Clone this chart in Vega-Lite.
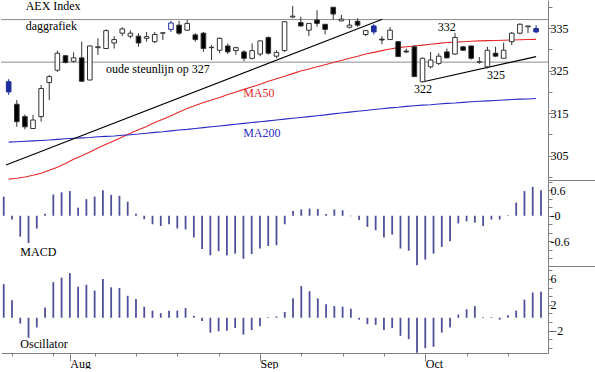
{
  "$schema": "https://vega.github.io/schema/vega-lite/v6.json",
  "padding": 0,
  "spacing": 0,
  "bounds": "flush",
  "background": "white",
  "config": {
    "view": {"stroke": null},
    "font": "Liberation Serif",
    "text": {"font": "Liberation Serif", "fontSize": 12},
    "axis": {"labelFont": "Liberation Serif", "labelFontSize": 12, "labelColor": "#000000", "domainColor": "#808080", "tickColor": "#808080", "grid": false, "labelOverlap": false, "labelFlush": false}
  },
  "datasets": {
    "days": [
      {"date":"2012-07-20","i":0,"open":322.4,"high":323.0,"low":319.3,"close":320.0,"ma50":299.5,"ma200":308.2,"macd":0.45,"osc":5.2,"signal":true},
      {"date":"2012-07-23","i":1,"open":317.1,"high":318.1,"low":311.8,"close":313.0,"ma50":299.7,"ma200":308.3,"macd":-0.09,"osc":2.7,"signal":false},
      {"date":"2012-07-24","i":2,"open":314.2,"high":314.7,"low":311.2,"close":311.8,"ma50":300.0,"ma200":308.4,"macd":-0.49,"osc":-0.9,"signal":false},
      {"date":"2012-07-25","i":3,"open":311.4,"high":314.6,"low":311.4,"close":313.4,"ma50":300.4,"ma200":308.5,"macd":-0.64,"osc":-3.1,"signal":false},
      {"date":"2012-07-26","i":4,"open":314.2,"high":321.6,"low":313.0,"close":320.8,"ma50":300.9,"ma200":308.6,"macd":-0.30,"osc":-1.5,"signal":false},
      {"date":"2012-07-27","i":5,"open":322.2,"high":324.0,"low":318.1,"close":323.6,"ma50":301.6,"ma200":308.7,"macd":0.05,"osc":1.6,"signal":false},
      {"date":"2012-07-30","i":6,"open":325.1,"high":329.7,"low":324.7,"close":329.1,"ma50":302.3,"ma200":308.85,"macd":0.50,"osc":5.5,"signal":false},
      {"date":"2012-07-31","i":7,"open":328.5,"high":328.7,"low":326.7,"close":326.9,"ma50":303.2,"ma200":309.0,"macd":0.55,"osc":6.2,"signal":false},
      {"date":"2012-08-01","i":8,"open":327.2,"high":329.3,"low":326.9,"close":328.0,"ma50":304.2,"ma200":309.1,"macd":0.58,"osc":6.9,"signal":false},
      {"date":"2012-08-02","i":9,"open":328.0,"high":331.8,"low":322.4,"close":322.5,"ma50":305.0,"ma200":309.2,"macd":0.19,"osc":4.8,"signal":false},
      {"date":"2012-08-03","i":10,"open":322.8,"high":330.9,"low":322.7,"close":330.8,"ma50":305.9,"ma200":309.3,"macd":0.39,"osc":5.1,"signal":false},
      {"date":"2012-08-06","i":11,"open":330.4,"high":332.6,"low":328.7,"close":330.6,"ma50":306.8,"ma200":309.45,"macd":0.45,"osc":4.2,"signal":false},
      {"date":"2012-08-07","i":12,"open":330.2,"high":334.7,"low":330.2,"close":334.4,"ma50":307.7,"ma200":309.55,"macd":0.60,"osc":6.0,"signal":false},
      {"date":"2012-08-08","i":13,"open":331.5,"high":333.1,"low":330.2,"close":332.3,"ma50":308.5,"ma200":309.65,"macd":0.49,"osc":4.7,"signal":false},
      {"date":"2012-08-09","i":14,"open":333.8,"high":335.2,"low":333.1,"close":334.8,"ma50":309.4,"ma200":309.8,"macd":0.47,"osc":4.6,"signal":false},
      {"date":"2012-08-10","i":15,"open":333.1,"high":334.5,"low":332.6,"close":333.8,"ma50":310.3,"ma200":309.95,"macd":0.33,"osc":3.4,"signal":false},
      {"date":"2012-08-13","i":16,"open":333.1,"high":333.8,"low":330.6,"close":331.5,"ma50":311.1,"ma200":310.1,"macd":0.05,"osc":2.9,"signal":false},
      {"date":"2012-08-14","i":17,"open":332.6,"high":334.1,"low":331.8,"close":333.0,"ma50":311.9,"ma200":310.3,"macd":-0.08,"osc":1.7,"signal":false},
      {"date":"2012-08-15","i":18,"open":331.8,"high":334.1,"low":331.5,"close":333.5,"ma50":312.8,"ma200":310.5,"macd":-0.20,"osc":1.1,"signal":false},
      {"date":"2012-08-16","i":19,"open":333.8,"high":333.9,"low":332.2,"close":333.9,"ma50":313.6,"ma200":310.65,"macd":-0.24,"osc":0.7,"signal":false},
      {"date":"2012-08-17","i":20,"open":334.7,"high":336.7,"low":334.1,"close":336.2,"ma50":314.4,"ma200":310.85,"macd":-0.20,"osc":1.1,"signal":true},
      {"date":"2012-08-20","i":21,"open":335.7,"high":336.7,"low":333.4,"close":333.8,"ma50":315.3,"ma200":311.05,"macd":-0.30,"osc":1.1,"signal":false},
      {"date":"2012-08-21","i":22,"open":334.5,"high":336.9,"low":334.4,"close":336.1,"ma50":316.1,"ma200":311.2,"macd":-0.32,"osc":1.5,"signal":false},
      {"date":"2012-08-22","i":23,"open":333.4,"high":333.8,"low":331.8,"close":332.3,"ma50":316.8,"ma200":311.4,"macd":-0.51,"osc":0.3,"signal":false},
      {"date":"2012-08-23","i":24,"open":333.8,"high":334.1,"low":329.4,"close":330.2,"ma50":317.5,"ma200":311.6,"macd":-0.78,"osc":-0.5,"signal":false},
      {"date":"2012-08-24","i":25,"open":330.4,"high":331.0,"low":327.5,"close":330.5,"ma50":318.1,"ma200":311.8,"macd":-0.93,"osc":-2.3,"signal":false},
      {"date":"2012-08-27","i":26,"open":329.8,"high":332.8,"low":329.1,"close":332.6,"ma50":318.7,"ma200":312.0,"macd":-0.83,"osc":-2.1,"signal":false},
      {"date":"2012-08-28","i":27,"open":330.8,"high":331.4,"low":328.9,"close":329.4,"ma50":319.4,"ma200":312.2,"macd":-0.93,"osc":-2.0,"signal":false},
      {"date":"2012-08-29","i":28,"open":329.7,"high":330.6,"low":328.7,"close":330.4,"ma50":320.0,"ma200":312.4,"macd":-0.89,"osc":-1.6,"signal":false},
      {"date":"2012-08-30","i":29,"open":329.4,"high":329.8,"low":327.2,"close":327.9,"ma50":320.6,"ma200":312.6,"macd":-1.01,"osc":-2.6,"signal":false},
      {"date":"2012-08-31","i":30,"open":327.9,"high":331.4,"low":327.6,"close":329.7,"ma50":321.2,"ma200":312.8,"macd":-0.90,"osc":-1.9,"signal":false},
      {"date":"2012-09-03","i":31,"open":328.9,"high":332.0,"low":328.4,"close":332.0,"ma50":321.8,"ma200":313.0,"macd":-0.77,"osc":-1.3,"signal":false},
      {"date":"2012-09-04","i":32,"open":332.8,"high":333.0,"low":328.8,"close":329.1,"ma50":322.5,"ma200":313.2,"macd":-0.71,"osc":0.1,"signal":false},
      {"date":"2012-09-05","i":33,"open":328.4,"high":329.8,"low":327.9,"close":329.3,"ma50":323.1,"ma200":313.4,"macd":-0.69,"osc":0.2,"signal":false},
      {"date":"2012-09-06","i":34,"open":329.7,"high":336.5,"low":329.4,"close":336.5,"ma50":323.7,"ma200":313.6,"macd":-0.20,"osc":0.9,"signal":false},
      {"date":"2012-09-07","i":35,"open":337.6,"high":340.2,"low":337.3,"close":337.8,"ma50":324.3,"ma200":313.8,"macd":0.11,"osc":3.0,"signal":false},
      {"date":"2012-09-10","i":36,"open":336.3,"high":337.7,"low":335.3,"close":335.5,"ma50":324.9,"ma200":314.0,"macd":0.15,"osc":4.9,"signal":false},
      {"date":"2012-09-11","i":37,"open":334.5,"high":336.1,"low":333.1,"close":336.1,"ma50":325.4,"ma200":314.2,"macd":0.17,"osc":4.1,"signal":false},
      {"date":"2012-09-12","i":38,"open":336.9,"high":339.2,"low":335.3,"close":336.1,"ma50":325.9,"ma200":314.4,"macd":0.16,"osc":3.0,"signal":false},
      {"date":"2012-09-13","i":39,"open":335.9,"high":335.9,"low":333.5,"close":334.7,"ma50":326.4,"ma200":314.6,"macd":0.04,"osc":2.1,"signal":false},
      {"date":"2012-09-14","i":40,"open":339.9,"high":339.9,"low":337.0,"close":338.3,"ma50":326.9,"ma200":314.85,"macd":0.15,"osc":1.8,"signal":false},
      {"date":"2012-09-17","i":41,"open":336.7,"high":338.1,"low":336.6,"close":337.1,"ma50":327.4,"ma200":315.05,"macd":0.13,"osc":1.7,"signal":false},
      {"date":"2012-09-18","i":42,"open":335.2,"high":337.0,"low":334.9,"close":335.7,"ma50":327.9,"ma200":315.25,"macd":-0.01,"osc":1.4,"signal":false},
      {"date":"2012-09-19","i":43,"open":336.6,"high":337.3,"low":335.3,"close":335.7,"ma50":328.4,"ma200":315.45,"macd":-0.10,"osc":-0.3,"signal":false},
      {"date":"2012-09-20","i":44,"open":333.5,"high":334.6,"low":333.1,"close":334.4,"ma50":328.9,"ma200":315.65,"macd":-0.26,"osc":-1.0,"signal":false},
      {"date":"2012-09-21","i":45,"open":335.5,"high":335.9,"low":333.5,"close":334.1,"ma50":329.3,"ma200":315.85,"macd":-0.34,"osc":-1.1,"signal":true},
      {"date":"2012-09-24","i":46,"open":332.4,"high":333.1,"low":331.2,"close":332.2,"ma50":329.7,"ma200":316.05,"macd":-0.51,"osc":-1.9,"signal":false},
      {"date":"2012-09-25","i":47,"open":332.3,"high":335.2,"low":332.2,"close":334.5,"ma50":330.1,"ma200":316.25,"macd":-0.44,"osc":-1.6,"signal":false},
      {"date":"2012-09-26","i":48,"open":331.8,"high":332.0,"low":328.3,"close":328.3,"ma50":330.4,"ma200":316.4,"macd":-0.77,"osc":-2.8,"signal":false},
      {"date":"2012-09-27","i":49,"open":329.6,"high":330.2,"low":329.1,"close":329.4,"ma50":330.6,"ma200":316.6,"macd":-0.82,"osc":-3.3,"signal":false},
      {"date":"2012-09-28","i":50,"open":330.6,"high":331.0,"low":323.6,"close":323.6,"ma50":330.8,"ma200":316.75,"macd":-1.16,"osc":-5.4,"signal":false},
      {"date":"2012-10-01","i":51,"open":322.4,"high":328.1,"low":322.2,"close":327.9,"ma50":331.0,"ma200":316.9,"macd":-1.03,"osc":-4.7,"signal":false},
      {"date":"2012-10-02","i":52,"open":325.9,"high":329.4,"low":325.5,"close":327.5,"ma50":331.2,"ma200":317.0,"macd":-0.89,"osc":-4.5,"signal":false},
      {"date":"2012-10-03","i":53,"open":326.7,"high":329.1,"low":326.3,"close":328.4,"ma50":331.4,"ma200":317.15,"macd":-0.73,"osc":-2.3,"signal":false},
      {"date":"2012-10-04","i":54,"open":329.4,"high":330.2,"low":327.9,"close":328.0,"ma50":331.6,"ma200":317.3,"macd":-0.60,"osc":-1.5,"signal":false},
      {"date":"2012-10-05","i":55,"open":328.9,"high":333.9,"low":328.7,"close":332.8,"ma50":331.7,"ma200":317.4,"macd":-0.18,"osc":0.5,"signal":false},
      {"date":"2012-10-08","i":56,"open":330.6,"high":330.8,"low":329.6,"close":329.8,"ma50":331.8,"ma200":317.55,"macd":-0.13,"osc":1.3,"signal":false},
      {"date":"2012-10-09","i":57,"open":330.8,"high":330.8,"low":327.6,"close":327.9,"ma50":331.9,"ma200":317.7,"macd":-0.16,"osc":1.8,"signal":false},
      {"date":"2012-10-10","i":58,"open":327.0,"high":328.2,"low":326.6,"close":327.1,"ma50":332.0,"ma200":317.8,"macd":-0.24,"osc":0.1,"signal":false},
      {"date":"2012-10-11","i":59,"open":325.9,"high":330.6,"low":325.5,"close":329.8,"ma50":332.05,"ma200":317.9,"macd":-0.09,"osc":0.1,"signal":false},
      {"date":"2012-10-12","i":60,"open":329.1,"high":330.6,"low":328.2,"close":328.4,"ma50":332.1,"ma200":318.0,"macd":-0.09,"osc":-0.3,"signal":false},
      {"date":"2012-10-15","i":61,"open":327.9,"high":331.6,"low":327.9,"close":329.8,"ma50":332.15,"ma200":318.1,"macd":0.01,"osc":0.4,"signal":false},
      {"date":"2012-10-16","i":62,"open":331.8,"high":334.1,"low":331.0,"close":333.8,"ma50":332.2,"ma200":318.2,"macd":0.31,"osc":1.1,"signal":false},
      {"date":"2012-10-17","i":63,"open":333.8,"high":336.1,"low":333.5,"close":335.9,"ma50":332.25,"ma200":318.3,"macd":0.58,"osc":2.8,"signal":false},
      {"date":"2012-10-18","i":64,"open":335.3,"high":335.5,"low":333.8,"close":335.5,"ma50":332.3,"ma200":318.35,"macd":0.68,"osc":3.9,"signal":false},
      {"date":"2012-10-19","i":65,"open":334.9,"high":335.7,"low":333.8,"close":334.1,"ma50":332.35,"ma200":318.45,"macd":0.60,"osc":4.0,"signal":true}
    ],
    "trend": [
      {"line":"steun","i":-0.33,"price":302.8},
      {"line":"steun","i":46.05,"price":337.1},
      {"line":"nieuw","i":51.1,"price":322.4},
      {"line":"nieuw","i":65,"price":328.3}
    ],
    "levels": [{"level":337},{"level":327}],
    "notes": [
      {"i":2.09,"y":339.2,"text":"AEX Index"},
      {"i":2.09,"y":334.5,"text":"daggrafiek"},
      {"i":12.0,"y":324.35,"text":"oude steunlijn op 327"},
      {"i":28.9,"y":318.85,"text":"MA50"},
      {"i":28.9,"y":309.45,"text":"MA200"}
    ],
    "peaks": [
      {"i":54.0,"y":334.35,"text":"332"},
      {"i":51.05,"y":319.65,"text":"322"},
      {"i":60.07,"y":322.95,"text":"325"}
    ],
    "macdNote": [{"i":2.01,"y":-0.95,"text":"MACD"}],
    "oscNote": [{"i":2.01,"y":-4.72,"text":"Oscillator"}]
  },
  "vconcat": [
    {
      "width": 547,
      "height": 180,
      "resolve": {"axis": {"y": "independent"}},
      "layer": [
        {
          "data": {"name": "levels"},
          "mark": {"type": "rule", "color": "#8c8c8c", "strokeWidth": 1},
          "encoding": {
            "y": {"field": "level", "type": "quantitative", "title": null,
              "scale": {"domain": [299.3, 341.6], "nice": false, "zero": false},
              "axis": {"orient": "right", "values": [305, 315, 325, 335], "format": "d",
                "tickSize": 4, "labelPadding": -2, "labelBaseline": "middle", "labelOverlap": false}}
          }
        },
        {
          "data": {"name": "days"},
          "mark": {"type": "line", "color": "#e42a2a", "strokeWidth": 1.1},
          "encoding": {
            "x": {"field": "i", "type": "quantitative", "title": null, "scale": {"domain": [-0.33, 65.85], "nice": false, "zero": false}, "axis": null},
            "y": {"field": "ma50", "type": "quantitative", "title": null, "scale": {"domain": [299.3, 341.6], "nice": false, "zero": false},
              "axis": {"orient": "right", "values": [299.3, 300, 310, 320, 330, 340], "labels": false, "domain": false,
                "tickSize": {"condition": {"test": "datum.value < 299.9", "value": 48}, "value": 4}}}
          }
        },
        {
          "data": {"name": "days"},
          "mark": {"type": "line", "color": "#2a2ac4", "strokeWidth": 1.1},
          "encoding": {
            "x": {"field": "i", "type": "quantitative", "title": null, "scale": {"domain": [-0.33, 65.85], "nice": false, "zero": false}, "axis": null},
            "y": {"field": "ma200", "type": "quantitative", "title": null, "scale": {"domain": [299.3, 341.6], "nice": false, "zero": false}, "axis": null}
          }
        },
        {
          "data": {"name": "trend"},
          "mark": {"type": "line", "color": "#000000", "strokeWidth": 1.1},
          "encoding": {
            "x": {"field": "i", "type": "quantitative", "title": null, "scale": {"domain": [-0.33, 65.85], "nice": false, "zero": false}, "axis": null},
            "y": {"field": "price", "type": "quantitative", "title": null, "scale": {"domain": [299.3, 341.6], "nice": false, "zero": false}, "axis": null},
            "detail": {"field": "line", "type": "nominal"}
          }
        },
        {
          "data": {"name": "days"},
          "mark": {"type": "rule", "strokeWidth": 1},
          "encoding": {
            "x": {"field": "i", "type": "quantitative", "title": null, "scale": {"domain": [-0.33, 65.85], "nice": false, "zero": false}, "axis": null},
            "y": {"field": "low", "type": "quantitative", "title": null, "scale": {"domain": [299.3, 341.6], "nice": false, "zero": false}, "axis": null},
            "y2": {"field": "high"},
            "color": {"condition": {"test": "datum.signal", "value": "#1f2d9e"}, "value": "#333333"}
          }
        },
        {
          "data": {"name": "days"},
          "mark": {"type": "bar", "size": 4.6, "strokeWidth": 1},
          "encoding": {
            "x": {"field": "i", "type": "quantitative", "title": null, "scale": {"domain": [-0.33, 65.85], "nice": false, "zero": false}, "axis": null},
            "y": {"field": "open", "type": "quantitative", "title": null, "scale": {"domain": [299.3, 341.6], "nice": false, "zero": false}, "axis": null},
            "y2": {"field": "close"},
            "fill": {"condition": [
              {"test": "datum.signal && datum.close < datum.open", "value": "#1f2d9e"},
              {"test": "datum.close < datum.open", "value": "#000000"}], "value": "#ffffff"},
            "stroke": {"condition": {"test": "datum.signal", "value": "#1f2d9e"}, "value": "#333333"}
          }
        },
        {
          "data": {"name": "notes"},
          "mark": {"type": "text", "align": "left", "baseline": "alphabetic", "fontSize": 12, "font": "Liberation Serif"},
          "encoding": {
            "x": {"field": "i", "type": "quantitative", "title": null, "scale": {"domain": [-0.33, 65.85], "nice": false, "zero": false}, "axis": null},
            "y": {"field": "y", "type": "quantitative", "title": null, "scale": {"domain": [299.3, 341.6], "nice": false, "zero": false}, "axis": null},
            "text": {"field": "text"},
            "color": {"condition": [
              {"test": "datum.text == 'MA50'", "value": "#e42a2a"},
              {"test": "datum.text == 'MA200'", "value": "#2a2ac4"}], "value": "#000000"}
          }
        },
        {
          "data": {"name": "peaks"},
          "mark": {"type": "text", "align": "center", "baseline": "alphabetic", "fontSize": 12, "font": "Liberation Serif", "color": "#000000"},
          "encoding": {
            "x": {"field": "i", "type": "quantitative", "title": null, "scale": {"domain": [-0.33, 65.85], "nice": false, "zero": false}, "axis": null},
            "y": {"field": "y", "type": "quantitative", "title": null, "scale": {"domain": [299.3, 341.6], "nice": false, "zero": false}, "axis": null},
            "text": {"field": "text"}
          }
        }
      ]
    },
    {
      "width": 547,
      "height": 86,
      "resolve": {"axis": {"y": "independent"}},
      "layer": [
        {
          "data": {"name": "days"},
          "mark": {"type": "rule", "color": "#50509a", "strokeWidth": 1.8},
          "encoding": {
            "x": {"field": "i", "type": "quantitative", "title": null, "scale": {"domain": [-0.33, 65.85], "nice": false, "zero": false}, "axis": null},
            "y": {"field": "macd", "type": "quantitative", "title": null,
              "scale": {"domain": [-1.18, 0.84], "nice": false, "zero": false},
              "axis": {"orient": "right", "values": [-0.6, 0, 0.6],
                "labelExpr": "datum.value > 0.3 ? '0.6' : datum.value < -0.3 ? '-0.6' : '-0'",
                "tickSize": 4, "labelPadding": -2, "labelBaseline": "middle", "labelOverlap": false}},
            "y2": {"datum": 0}
          }
        },
        {
          "data": {"name": "macdNote"},
          "mark": {"type": "text", "align": "left", "baseline": "alphabetic", "fontSize": 12, "font": "Liberation Serif", "color": "#000000"},
          "encoding": {
            "x": {"field": "i", "type": "quantitative", "title": null, "scale": {"domain": [-0.33, 65.85], "nice": false, "zero": false}, "axis": null},
            "y": {"field": "y", "type": "quantitative", "title": null, "scale": {"domain": [-1.18, 0.84], "nice": false, "zero": false},
              "axis": {"orient": "right", "values": [-1.18, -1.0, -0.8, -0.4, -0.2, 0.2, 0.4, 0.8], "labels": false, "domain": false,
                "tickSize": {"condition": {"test": "datum.value < -1.1", "value": 48}, "value": 4}}},
            "text": {"field": "text"}
          }
        }
      ]
    },
    {
      "width": 547,
      "height": 87,
      "resolve": {"axis": {"y": "independent"}},
      "layer": [
        {
          "data": {"name": "days"},
          "mark": {"type": "rule", "color": "#50509a", "strokeWidth": 1.8},
          "encoding": {
            "x": {"field": "i", "type": "quantitative", "title": null,
              "scale": {"domain": [-0.33, 65.85], "nice": false, "zero": false},
              "axis": {"values": [1, 6, 8, 11, 16, 21, 26, 31, 36, 41, 46, 51, 56, 61],
                "labelExpr": "datum.value == 8 ? 'Aug' : datum.value == 31 ? 'Sep' : datum.value == 51 ? 'Oct' : ''",
                "tickSize": {"condition": {"test": "datum.value == 8 || datum.value == 31 || datum.value == 51", "value": 8}, "value": 3},
                "labelAlign": "left", "labelPadding": -3, "labelBaseline": "top", "labelOverlap": false}},
            "y": {"field": "osc", "type": "quantitative", "title": null,
              "scale": {"domain": [-5.45, 8.0], "nice": false, "zero": false},
              "axis": {"orient": "right", "values": [-2, 2, 6], "format": "d",
                "tickSize": 4, "labelPadding": -2, "labelBaseline": "middle", "labelOverlap": false}},
            "y2": {"datum": 0}
          }
        },
        {
          "data": {"name": "oscNote"},
          "mark": {"type": "text", "align": "left", "baseline": "alphabetic", "fontSize": 12, "font": "Liberation Serif", "color": "#000000"},
          "encoding": {
            "x": {"field": "i", "type": "quantitative", "title": null, "scale": {"domain": [-0.33, 65.85], "nice": false, "zero": false}},
            "y": {"field": "y", "type": "quantitative", "title": null, "scale": {"domain": [-5.45, 8.0], "nice": false, "zero": false},
              "axis": {"orient": "right", "values": [-4.667, -3.333, -0.667, 0.667, 3.333, 4.667, 7.333], "labels": false, "domain": false, "tickSize": 4}},
            "text": {"field": "text"}
          }
        }
      ]
    }
  ]
}
